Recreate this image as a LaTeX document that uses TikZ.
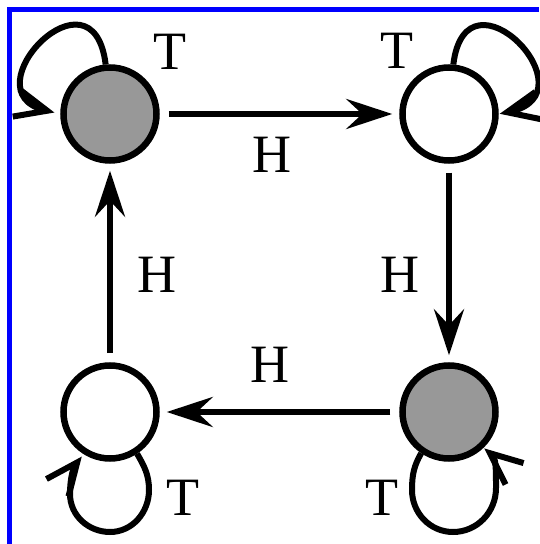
\documentclass[tikz,border=0pt]{standalone}
\usepackage{fontspec}
\setmainfont{Liberation Serif}
\usetikzlibrary{arrows.meta}
\definecolor{shadegray}{RGB}{152,152,152}
\definecolor{frameblue}{RGB}{0,0,255}
\begin{document}
\begin{tikzpicture}[x=1pt,y=1pt,
  state/.style={circle,draw,line width=6.5pt,minimum size=93pt,inner sep=0pt},
  shaded/.style={state,fill=shadegray},
  lbl/.style={font=\fontsize{54}{54}\selectfont,inner sep=0pt},
  edge/.style={line width=6pt,-{Stealth[length=46pt,width=30pt,inset=16pt]},shorten <=9pt,shorten >=7pt},
  selfloop/.style={line width=6pt,-{Straight Barb[length=32pt,width=28pt]}}
]
\useasboundingbox (0,0) rectangle (539,544);
\fill[white] (0,0) rectangle (539,544);
\draw[frameblue,line width=5pt] (9.5,0) -- (9.5,534) -- (539,534);

\node[shaded] (tl) at (110,430) {};
\node[state] (tr) at (449,430) {};
\node[state] (bl) at (110,132) {};
\node[shaded] (br) at (449,132) {};

\draw[edge] (tl) -- (tr);
\draw[edge] (tr) -- (br);
\draw[edge] (br) -- (bl);
\draw[edge] (bl) -- (tl);

\draw[selfloop,shorten >=6pt] (tl.95) .. controls +(97:105) and +(166:95) .. (tl.180);
\draw[selfloop,shorten >=1pt] (tr.85) .. controls +(83:105) and +(12:98) .. (tr.0);
\draw[selfloop,shorten >=3pt] (bl.-57) to[out=-60,in=90] (149,54)
   to[out=-90,in=0] (110,12) to[out=180,in=-90] (70,50)
   to[out=90,in=232] (bl.-122);
\draw[selfloop,shorten >=1pt] (br.-124) to[out=240,in=90] (412,54)
   to[out=-90,in=180] (453,12) to[out=0,in=-90] (496,56)
   to[out=90,in=-40] (br.-46);

\node[lbl] (h1) at (272,389) {H};
\node[lbl] (h2) at (400,269) {H};
\node[lbl] (h3) at (270,179) {H};
\node[lbl] (h4) at (157,269) {H};
\node[lbl] (t1) at (170,492) {T};
\node[lbl] (t2) at (397,493) {T};
\node[lbl] (t3) at (183,46) {T};
\node[lbl] (t4) at (382,46) {T};
\end{tikzpicture}
\end{document}
